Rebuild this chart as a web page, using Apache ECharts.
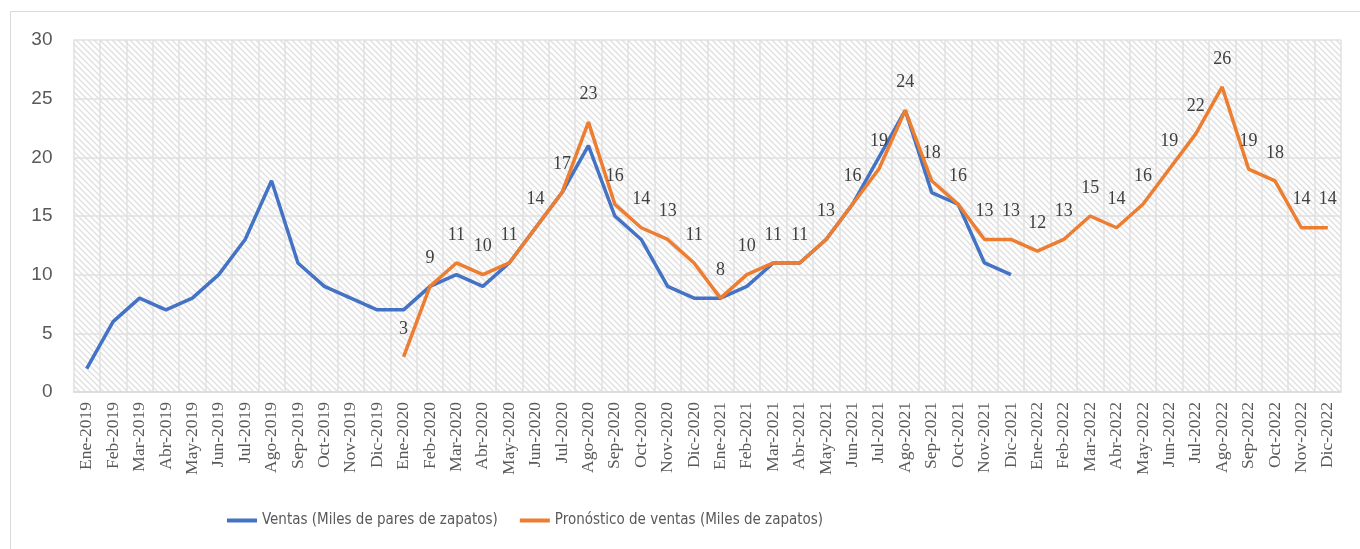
<!DOCTYPE html>
<html>
<head>
<meta charset="utf-8">
<script src="https://cdn.jsdelivr.net/npm/echarts@6/dist/echarts.min.js"></script>
<style>
    html, body { margin: 0; padding: 0; background: #fff; }
    #chart { width: 1360px; height: 549px; }
</style>
</head>
<body>
<div id="chart"></div>
<script>
let months = ['Ene', 'Feb', 'Mar', 'Abr', 'May', 'Jun', 'Jul', 'Ago', 'Sep', 'Oct', 'Nov', 'Dic'];
let years = ['2019', '2020', '2021', '2022'];
let categories = [];
years.forEach(y => months.forEach(m => categories.push(m + '-' + y)));

let ventas = [
    2, 6, 8, 7, 8, 10, 13, 18, 11, 9, 8, 7,
    7, 9, 10, 9, 11, 14, 17, 21, 15, 13, 9, 8,
    8, 9, 11, 11, 13, 16, 20, 24, 17, 16, 11, 10,
    null, null, null, null, null, null, null, null, null, null, null, null
];
let pronostico = [
    null, null, null, null, null, null, null, null, null, null, null, null,
    3, 9, 11, 10, 11, 14, 17, 23, 16, 14, 13, 11,
    8, 10, 11, 11, 13, 16, 19, 24, 18, 16, 13, 13,
    12, 13, 15, 14, 16, 19, 22, 26, 19, 18, 14, 14
];
let seriesNames = ['Ventas (Miles de pares de zapatos)', 'Pronóstico de ventas (Miles de zapatos)'];

// hatch pattern for plot background
function makeHatch() {
    let c = document.createElement('canvas');
    let s = 6;
    c.width = s; c.height = s;
    let ctx = c.getContext('2d');
    ctx.fillStyle = '#ffffff';
    ctx.fillRect(0, 0, s, s);
    ctx.strokeStyle = '#e0e0e0';
    ctx.lineWidth = 1.4;
    ctx.beginPath();
    ctx.moveTo(-1, -1); ctx.lineTo(s + 1, s + 1);
    ctx.moveTo(-1, s - 1); ctx.lineTo(1, s + 1);
    ctx.moveTo(s - 1, -1); ctx.lineTo(s + 1, 1);
    ctx.stroke();
    return c;
}

let chart = echarts.init(document.getElementById('chart'));
let option = {
    backgroundColor: '#ffffff',
    animation: false,
    graphic: [{
        type: 'rect',
        shape: { x: 10.5, y: 11.5, width: 1360, height: 560 },
        style: { fill: 'none', stroke: '#d9d9d9', lineWidth: 1 },
        z: -10
    }],
    grid: {
        left: 73.5,
        right: 19,
        top: 40,
        bottom: 157,
        show: true,
        borderWidth: 0,
        backgroundColor: { image: makeHatch(), repeat: 'repeat' }
    },
    legend: {
        left: 222,
        top: 508,
        icon: 'rect',
        itemWidth: 30,
        itemHeight: 4,
        itemGap: 22,
        textStyle: {
            fontFamily: '"Liberation Sans Narrow", "DejaVu Sans Condensed", "Liberation Sans", sans-serif',
            fontSize: 15,
            color: '#595959'
        },
        data: seriesNames
    },
    xAxis: {
        type: 'category',
        data: categories,
        boundaryGap: true,
        axisLine: { lineStyle: { color: '#d9d9d9', width: 1.5 } },
        axisTick: { show: false },
        splitLine: { show: true, lineStyle: { color: '#e0e0e0', width: 1.5 } },
        axisLabel: {
            interval: 0,
            rotate: 90,
            margin: 10,
            fontFamily: '"Liberation Serif", "Times New Roman", serif',
            fontSize: 17.5,
            color: '#595959'
        }
    },
    yAxis: {
        type: 'value',
        min: 0,
        max: 30,
        interval: 5,
        axisLine: { show: false },
        axisTick: { show: false },
        splitLine: { lineStyle: { color: '#e0e0e0', width: 1.5 } },
        axisLabel: {
            margin: 21,
            fontFamily: '"Liberation Sans", "Open Sans", sans-serif',
            fontSize: 19,
            color: '#595959'
        }
    },
    series: [
        {
            name: seriesNames[0],
            type: 'line',
            data: ventas,
            symbol: 'none',
            lineStyle: { color: '#4472c4', width: 3.5 },
            itemStyle: { color: '#4472c4' }
        },
        {
            name: seriesNames[1],
            type: 'line',
            data: pronostico,
            symbol: 'circle',
            symbolSize: 0,
            showSymbol: true,
            lineStyle: { color: '#ed7d31', width: 3.5 },
            itemStyle: { color: '#ed7d31' },
            label: {
                show: true,
                position: 'top',
                distance: 19,
                fontFamily: '"Liberation Serif", "Times New Roman", serif',
                fontSize: 18,
                color: '#404040'
            }
        }
    ]
};
chart.setOption(option);
</script>
</body>
</html>
